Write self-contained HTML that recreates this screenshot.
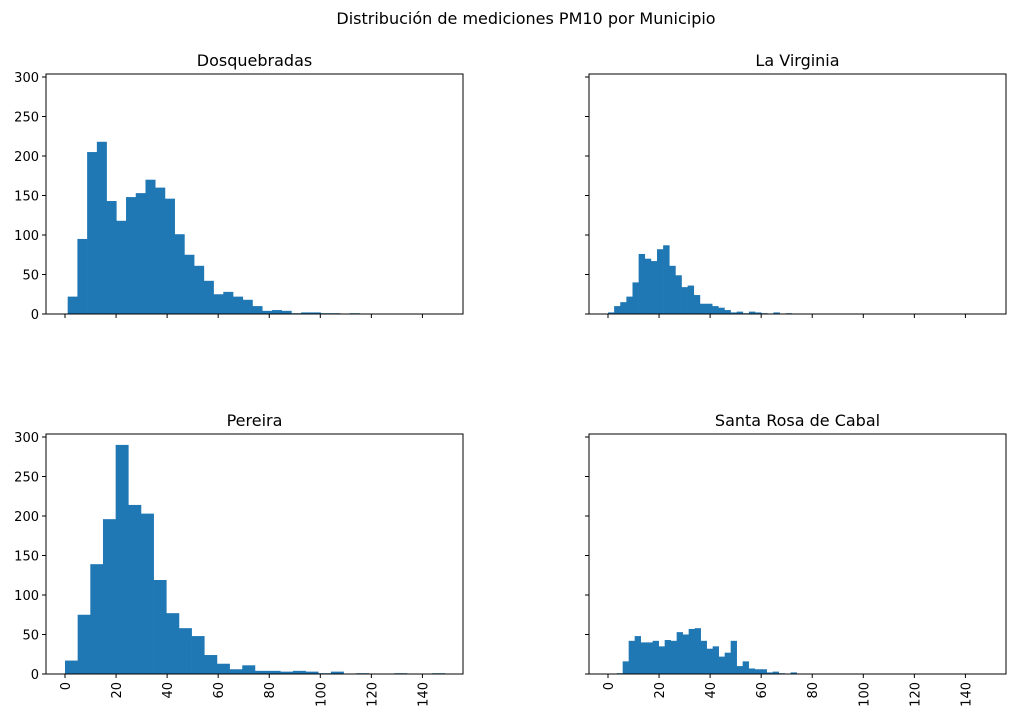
<!DOCTYPE html>
<html><head><meta charset="utf-8"><style>body{margin:0;background:#fff}svg{display:block;font-family:"DejaVu Sans","Liberation Sans",sans-serif}</style></head>
<body>
<svg id="c" width="1016" height="720">
<text x="526" y="24" text-anchor="middle" font-size="16">Distribución de mediciones PM10 por Municipio</text>
</svg>
<script>
const panelNames = ["Dosquebradas", "La Virginia", "Pereira", "Santa Rosa de Cabal"];
const binStarts = [1.05, 0, 0, 3.4];
const binWidths = [3.81, 2.4, 4.96, 2.35];
const countsDosquebradas = [22,95,205,218,143,118,148,153,170,160,146,101,75,61,42,25,28,22,18,10,4,5,4,1,2,2,1,1,0,1];
const countsLaVirginia = [2,10,15,22,40,76,70,67,82,87,61,49,34,36,24,13,13,10,8,5,2,3,1,3,2,1,0,2,0,1];
const countsPereira = [17,75,139,196,290,214,203,119,77,58,48,24,13,6,11,4,4,3,4,3,1,3,0,1,0,0,1,0,0,1];
const countsSantaRosa = [1,16,42,48,40,40,42,35,43,42,53,50,57,58,42,32,35,22,27,42,10,16,7,6,6,2,3,1,0,2];
const xTicks = [0,20,40,60,80,100,120,140];
const yTicks = [0,50,100,150,200,250,300];
const allCounts = [countsDosquebradas, countsLaVirginia, countsPereira, countsSantaRosa];
const svg = document.getElementById('c');
const NS = "http://www.w3.org/2000/svg";
const W = 417, H = 240, xMin = -7.44, xScale = 2.553, yScale = 0.79;
const lefts = [46, 589, 46, 589], tops = [74, 74, 434, 434];
function mk(tag, attrs, parent) { const e = document.createElementNS(NS, tag); for (const k in attrs) e.setAttribute(k, attrs[k]); (parent || svg).appendChild(e); return e; }
for (let p = 0; p < 4; p++) {
  const L = lefts[p], T = tops[p];
  const sx = v => L + (v - xMin) * xScale;
  const sy = v => T + H - v * yScale;
  const g = mk('g', {});
  
  
  const counts = allCounts[p];
  counts.forEach((c, i) => {
    if (c <= 0) return;
    const x0 = sx(binStarts[p] + i * binWidths[p]), x1 = sx(binStarts[p] + (i + 1) * binWidths[p]);
    const r = mk('rect', {x: x0, y: sy(c), width: x1 - x0 + 0.3, height: c * yScale, fill: '#1f77b4'}, g);
    
    
  });
  const fr = mk('rect', {x: L, y: T, width: W, height: H, fill: 'none', stroke: '#000', 'stroke-width': 1}, g);
  
  
  const t = mk('text', {x: L + W / 2, y: T - 8, 'text-anchor': 'middle', 'font-size': 16}, g);
  t.textContent = panelNames[p];
  
  
  xTicks.forEach(v => {
    const x = sx(v);
    mk('line', {x1: x, x2: x, y1: T + H, y2: T + H + 4, stroke: '#000'}, g);
    if (p >= 2) {
      const tx = mk('text', {transform: `translate(${x + 5},${T + H + 8}) rotate(-90)`, 'text-anchor': 'end', 'font-size': 13}, g);
      tx.textContent = v;
      
      
    }
  });
  yTicks.forEach(v => {
    const y = sy(v);
    mk('line', {x1: L - 4, x2: L, y1: y, y2: y, stroke: '#000'}, g);
    if (p % 2 === 0) {
      const ty = mk('text', {x: L - 7, y: y + 5, 'text-anchor': 'end', 'font-size': 13}, g);
      ty.textContent = v;
      
      
    }
  });
}
</script>
</body></html>
